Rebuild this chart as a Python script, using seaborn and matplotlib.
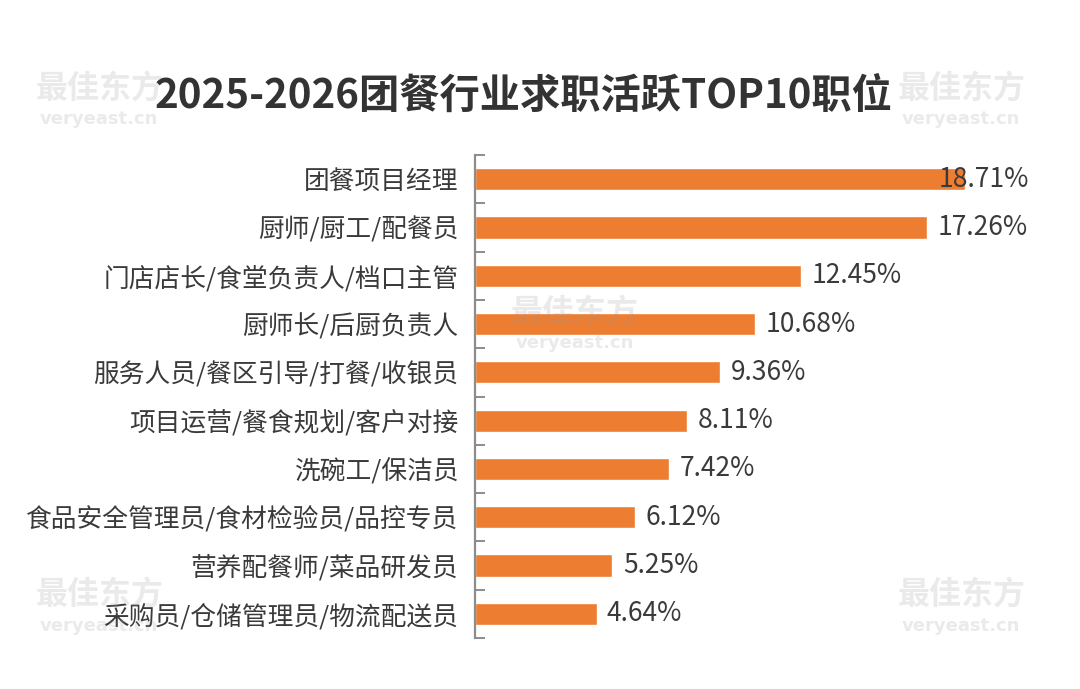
import matplotlib
matplotlib.use("Agg")
import matplotlib.pyplot as plt
import seaborn as sns
import numpy as np
import pandas as pd
from matplotlib.ticker import FixedLocator

# data
positions = [
    "团餐项目经理",
    "厨师/厨工/配餐员",
    "门店店长/食堂负责人/档口主管",
    "厨师长/后厨负责人",
    "服务人员/餐区引导/打餐/收银员",
    "项目运营/餐食规划/客户对接",
    "洗碗工/保洁员",
    "食品安全管理员/食材检验员/品控专员",
    "营养配餐师/菜品研发员",
    "采购员/仓储管理员/物流配送员",
]
shares = [18.71, 17.26, 12.45, 10.68, 9.36, 8.11, 7.42, 6.12, 5.25, 4.64]
title = "2025-2026团餐行业求职活跃TOP10职位"

df = pd.DataFrame({"position": positions, "share": shares})

# =====================================================
# STYLE
# =====================================================
sns.set_theme(style="white")
plt.rcParams["font.family"] = ["Noto Sans CJK SC", "DejaVu Sans"]

BAR = "#ED7D31"
TEXT = "#3a3a3a"
AXIS = "#8c8c8c"

fig = plt.figure(figsize=(10.8, 6.89), dpi=100)
ax = fig.add_axes([0.4398, 0.074, 0.51, 0.701])

sns.barplot(data=df, x="share", y="position", orient="h",
            color=BAR, saturation=1, width=0.46, ax=ax)

ax.set_xlim(0, 21.03)
ax.set_ylim(len(positions) - 0.5, -0.5)

# value labels (the longest one is pulled back inside the frame)
for i, v in enumerate(df["share"]):
    ax.text(min(v + 0.4, 17.7), i, f"{v:.2f}%", ha="left", va="center",
            fontsize=19, color=TEXT, zorder=5)

# axes styling
for s in ["top", "right", "bottom"]:
    ax.spines[s].set_visible(False)
ax.spines["left"].set_color(AXIS)
ax.spines["left"].set_linewidth(1.6)
ax.set_xticks([])
ax.set_xlabel("")
ax.set_ylabel("")
ax.tick_params(axis="y", which="major", left=False, length=0, pad=12,
               labelsize=18.5, labelcolor=TEXT)
ax.yaxis.set_minor_locator(FixedLocator(np.arange(-0.5, len(positions), 1.0)))
ax.tick_params(axis="y", which="minor", left=True, direction="in", length=7,
               width=1.4, color=AXIS)

fig.text(0.485, 0.86, title, ha="center", va="center",
         fontsize=29, fontweight="bold", color="#333333")

# watermarks (faint, as in the source image)
marks = [(0.092, 0.87), (0.89, 0.87), (0.532, 0.545),
         (0.092, 0.135), (0.89, 0.135)]
for mx, my in marks:
    fig.text(mx, my, "最佳东方", ha="center", va="center", fontsize=23,
             fontweight="bold", color="#9a9a9a", alpha=0.2, zorder=10)
    fig.text(mx, my - 0.043, "veryeast.cn", ha="center", va="center",
             fontsize=13, fontweight="bold", color="#9a9a9a", alpha=0.2,
             family="DejaVu Sans", zorder=10)

fig.savefig("out.png", dpi=100, facecolor="white")
plt.close(fig)
